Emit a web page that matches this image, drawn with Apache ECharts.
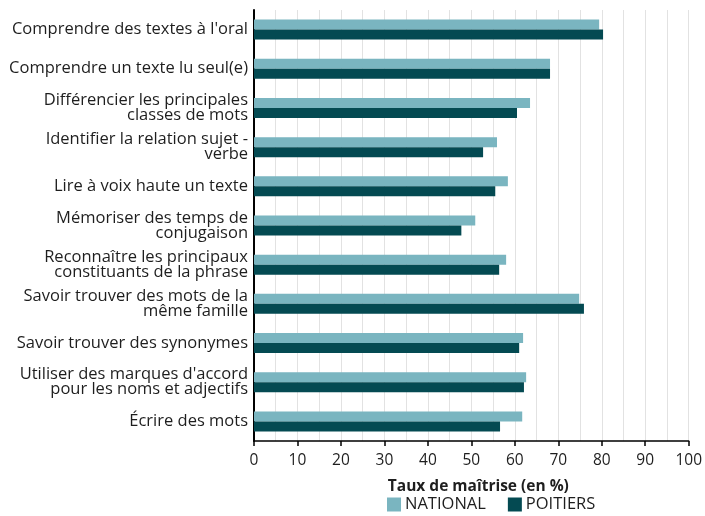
<!DOCTYPE html>
<html>
<head>
<meta charset="utf-8">
<script src="https://cdn.jsdelivr.net/npm/echarts@6/dist/echarts.min.js"></script>
<style>
  html, body { margin: 0; padding: 0; background: #fff; }
  #chart { width: 705px; height: 516px; }
</style>
</head>
<body>
<div id="chart"></div>
<script>
// Skills, top to bottom as shown
const categories = [
  "Comprendre des textes à l'oral",
  "Comprendre un texte lu seul(e)",
  "Différencier les principales\nclasses de mots",
  "Identifier la relation sujet -\nverbe",
  "Lire à voix haute un texte",
  "Mémoriser des temps de\nconjugaison",
  "Reconnaître les principaux\nconstituants de la phrase",
  "Savoir trouver des mots de la\nmême famille",
  "Savoir trouver des synonymes",
  "Utiliser des marques d'accord\npour les noms et adjectifs",
  "Écrire des mots"
];
// Mastery rate (%)
const national = [79.4, 68.1, 63.5, 55.9, 58.4, 50.9, 58.0, 74.8, 61.9, 62.6, 61.7];
const poitiers = [80.3, 68.1, 60.5, 52.7, 55.5, 47.7, 56.4, 75.9, 61.0, 62.1, 56.6];
const seriesNames = ["NATIONAL", "POITIERS"];
const axisTitle = "Taux de maîtrise (en %)";

const FONT = "Open Sans";
const chart = echarts.init(document.getElementById('chart'), null, { renderer: 'canvas' });

chart.setOption({
  animation: false,
  textStyle: { fontFamily: FONT },
  grid: { left: 254, right: 16, top: 10, bottom: 75, containLabel: false },
  legend: {
    data: seriesNames,
    bottom: 3,
    left: 387,
    padding: 0,
    itemWidth: 14,
    itemHeight: 14,
    itemGap: 22,
    icon: 'rect',
    textStyle: { fontFamily: FONT, fontSize: 16.5, color: '#1e1e1e', padding: [0, 0, 0, -1] }
  },
  xAxis: {
    type: 'value',
    min: 0,
    max: 100,
    interval: 10,
    name: axisTitle,
    nameLocation: 'middle',
    nameGap: 38,
    nameTextStyle: { fontFamily: FONT, fontSize: 15.5, fontWeight: 'bold', color: '#1e1e1e', padding: [0, 0, 0, 14] },
    axisLine: { show: true, onZero: false, lineStyle: { color: '#000', width: 1.5 } },
    axisTick: { show: true, length: 5, lineStyle: { color: '#000', width: 1.5 } },
    axisLabel: { fontFamily: FONT, fontSize: 15.5, color: '#1e1e1e', margin: 12 },
    splitLine: { show: true, lineStyle: { color: '#e2e2e2', width: 1 } },
    minorTick: { show: false, splitNumber: 2 },
    minorSplitLine: { show: true, lineStyle: { color: '#e2e2e2', width: 1 } }
  },
  yAxis: {
    type: 'category',
    data: categories,
    inverse: true,
    axisLine: { show: true, lineStyle: { color: '#000', width: 2 } },
    axisTick: { show: false },
    axisLabel: {
      fontFamily: FONT,
      fontSize: 16.5,
      color: '#1e1e1e',
      lineHeight: 15,
      margin: 6,
      align: 'right'
    },
    splitLine: { show: false }
  },
  series: [
    {
      name: seriesNames[0],
      type: 'bar',
      data: national,
      barWidth: 10,
      barGap: '0%',
      itemStyle: { color: '#7ab5c0' }
    },
    {
      name: seriesNames[1],
      type: 'bar',
      data: poitiers,
      barWidth: 10,
      barGap: '0%',
      itemStyle: { color: '#044a52' }
    }
  ]
});
</script>
</body>
</html>
